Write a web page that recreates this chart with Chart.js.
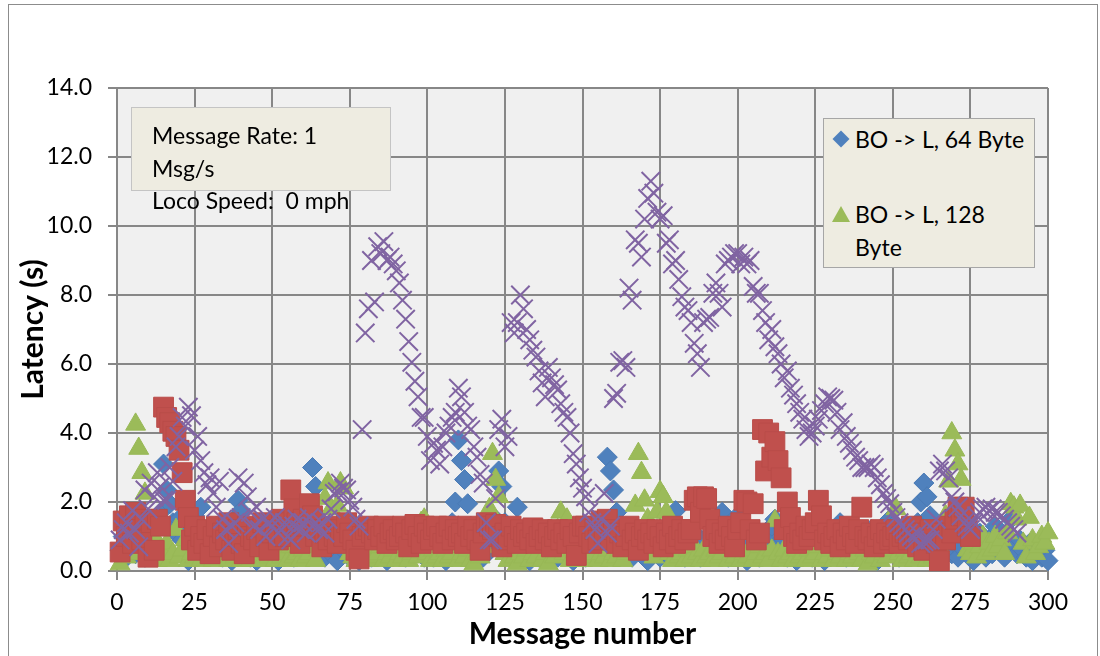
<!DOCTYPE html>
<html>
<head>
<meta charset="utf-8">
<script src="https://cdn.jsdelivr.net/npm/chart.js@4"></script>
<style>
  body { margin: 0; width: 1100px; height: 656px; overflow: hidden; background: #fff; position: relative; font-family: Lato, sans-serif; }
  #frame { position: absolute; left: 8px; top: 4px; width: 1088px; height: 720px; border: 1.5px solid #8c8c8c; }
  canvas { position: absolute; left: 0; top: 0; }
  .box { position: absolute; background: #eeece1; box-sizing: border-box; }
  .txt { position: absolute; font-size: 23px; color: #000; white-space: nowrap; }
</style>
</head>
<body>
<div id="frame"></div>
<canvas id="chart" width="1100" height="656"></canvas>

<div class="box" style="left:131px; top:107px; width:260px; height:84px; border:1.5px solid #c4c4c4;"></div>
<div class="txt" style="left:152px; top:119px; line-height:32.5px;">Message Rate: 1<br>Msg/s<br>Loco Speed:&nbsp; 0 mph</div>

<div class="box" style="left:823px; top:118px; width:212px; height:150px; border:1.5px solid #a6a6a6;"></div>
<div style="position:absolute; left:835px; top:133px; width:12px; height:12px; background:#4f81bd; transform:rotate(45deg);"></div>
<div class="txt" style="left:855px; top:123px; line-height:32px;">BO -&gt; L, 64 Byte</div>
<div style="position:absolute; left:832px; top:206px; width:0; height:0; border-left:9px solid transparent; border-right:9px solid transparent; border-bottom:16px solid #9bbb59;"></div>
<div class="txt" style="left:855px; top:198px; line-height:32.5px;">BO -&gt; L, 128<br>Byte</div>

<script>
// message numbers start at 1 in every series
const xTicks = [0, 25, 50, 75, 100, 125, 150, 175, 200, 225, 250, 275, 300];
const yTicks = [0, 2, 4, 6, 8, 10, 12, 14];

// BO -> L, 64 Byte
const blue64 = [
  0.6, 1.0, 0.4, 1.3, 0.7, 0.5, 1.1, 0.9, 0.4, 1.2,
  0.8, 1.5, 1.3, 1.7, 3.1, 2.35, 1.95, 1.4, 1.1, 1.5,
  0.9, 0.5, 0.3, 1.2, 1.6, 0.6, 1.85, 0.9, 1.0, 0.5,
  0.7, 1.3, 0.5, 0.4, 0.8, 1.1, 0.3, 1.5, 2.05, 1.75,
  1.2, 0.6, 0.4, 0.9, 0.3, 1.0, 0.7, 0.5, 1.2, 0.4,
  0.6, 0.3, 1.1, 0.8, 0.5, 0.7, 0.4, 1.3, 0.6, 0.9,
  1.3, 1.6, 3.0, 2.45, 1.5, 0.7, 0.4, 1.0, 0.5, 0.8,
  0.3, 1.2, 0.6, 0.9, 0.4, 1.1, 0.5, 0.3, 0.7, 1.0,
  0.6, 0.4, 1.2, 0.8, 0.5, 0.9, 0.3, 1.1, 0.6, 0.5,
  0.8, 1.0, 0.4, 0.7, 1.3, 0.5, 0.9, 0.6, 0.4, 0.5,
  0.7, 0.4, 0.9, 1.2, 0.6, 0.3, 0.8, 1.4, 2.0, 3.8,
  3.2, 2.65, 1.95, 1.3, 0.7, 0.5, 0.9, 0.4, 1.1, 0.6,
  0.8, 1.5, 2.9, 2.45, 1.4, 0.6, 0.4, 1.0, 1.85, 1.2,
  0.5, 0.8, 0.3, 0.6, 1.1, 0.4, 0.9, 0.7, 0.5, 1.0,
  0.6, 0.4, 0.8, 1.3, 0.5, 0.7, 0.3, 0.9, 0.6, 1.1,
  0.4, 0.8, 0.5, 1.2, 0.6, 0.9, 1.4, 3.3, 2.9, 2.35,
  1.7, 1.3, 0.7, 0.5, 0.9, 0.4, 1.1, 0.6, 0.8, 0.5,
  0.3, 0.9, 0.6, 1.2, 0.4, 0.7, 0.5, 1.0, 1.4, 1.75,
  1.2, 0.6, 0.4, 0.8, 0.5, 1.1, 0.7, 0.4, 0.9, 1.5,
  0.6, 0.8, 0.5, 1.2, 1.7, 0.9, 0.4, 0.7, 1.3, 1.6,
  0.8, 0.5, 0.3, 0.9, 0.6, 1.1, 0.4, 0.7, 0.5, 1.0,
  1.3, 1.5, 0.8, 0.5, 0.9, 0.4, 1.1, 0.6, 0.3, 0.8,
  0.5, 1.2, 0.7, 0.4, 1.3, 0.9, 0.6, 0.3, 0.8, 1.0,
  0.5, 0.7, 1.4, 0.6, 0.4, 0.9, 0.5, 1.1, 0.7, 0.4,
  0.8, 0.6, 1.2, 0.5, 0.3, 0.9, 0.6, 1.0, 1.5, 1.3,
  0.7, 0.4, 0.9, 0.6, 1.1, 0.5, 0.8, 1.4, 2.0, 2.55,
  2.15, 1.6, 1.0, 0.7, 0.4, 0.9, 0.6, 1.2, 0.5, 0.8,
  0.4, 0.7, 1.0, 0.5, 0.8, 0.3, 0.6, 1.1, 0.7, 0.4,
  0.9, 0.5, 1.3, 0.6, 0.8, 0.4, 1.0, 1.5, 0.7, 0.5,
  0.9, 0.6, 0.4, 0.8, 0.3, 0.7, 0.5, 0.4, 0.6, 0.3
];

// BO -> L, 128 Byte
const green128 = [
  0.2, 0.5, 0.4, 0.7, 0.5, 4.25, 3.55, 2.85, 2.25, 0.6,
  0.4, 1.0, 0.3, 0.6, 0.5, 0.8, 0.3, 0.5, 1.2, 0.4,
  0.6, 0.9, 0.3, 0.5, 0.4, 0.7, 0.3, 0.6, 0.5, 0.4,
  0.3, 0.6, 0.4, 0.5, 0.8, 0.3, 0.5, 0.4, 0.7, 0.3,
  0.5, 0.6, 0.3, 0.4, 0.7, 0.5, 0.3, 0.6, 0.4, 0.5,
  0.3, 0.6, 0.4, 0.5, 0.3, 0.7, 0.4, 0.5, 0.3, 0.6,
  0.4, 0.5, 0.8, 0.3, 0.6, 1.4, 2.1, 2.55, 1.8, 0.7,
  1.9, 2.55, 2.4, 1.2, 0.5, 0.4, 0.3, 0.6, 0.4, 0.5,
  0.3, 0.6, 0.4, 0.5, 0.7, 0.3, 0.5, 0.4, 0.6, 0.3,
  0.5, 0.4, 0.6, 0.3, 0.5, 0.7, 0.4, 1.4, 1.5, 0.5,
  0.3, 0.6, 0.4, 0.5, 0.3, 0.6, 0.4, 0.5, 0.7, 0.3,
  0.5, 0.4, 0.6, 0.3, 0.2, 0.5, 0.4, 0.7, 1.0, 1.8,
  3.4, 2.65, 2.15, 1.2, 0.5, 0.3, 0.6, 0.4, 0.2, 0.5,
  0.4, 0.6, 0.3, 0.5, 0.4, 0.7, 0.3, 0.5, 0.2, 0.6,
  0.4, 1.2, 1.7, 0.5, 1.5, 0.3, 0.6, 0.4, 0.5, 0.3,
  0.6, 0.4, 0.5, 0.7, 0.3, 0.5, 0.4, 0.6, 0.3, 0.5,
  0.4, 0.6, 0.3, 0.5, 0.7, 1.2, 1.9, 3.4, 2.85, 2.05,
  1.5, 0.6, 0.4, 1.7, 2.3, 2.15, 1.7, 0.5, 0.3, 0.6,
  0.4, 0.5, 0.3, 0.6, 0.4, 0.7, 0.5, 0.3, 0.6, 0.4,
  0.5, 0.3, 0.6, 0.4, 0.5, 0.7, 0.3, 0.5, 0.4, 0.6,
  0.3, 0.5, 0.4, 0.6, 0.3, 0.5, 0.7, 0.4, 0.5, 0.3,
  0.6, 1.45, 0.5, 0.3, 0.6, 0.4, 0.5, 0.3, 0.6, 0.4,
  0.5, 0.3, 0.6, 0.4, 0.5, 0.7, 0.3, 0.5, 0.4, 0.6,
  0.3, 0.5, 0.4, 0.6, 0.3, 0.5, 0.4, 0.7, 0.5, 0.3,
  0.6, 0.2, 0.5, 0.4, 0.6, 0.3, 0.5, 0.4, 0.6, 0.7,
  1.8, 0.5, 0.3, 0.6, 0.4, 0.5, 0.3, 0.6, 0.4, 0.5,
  0.3, 0.6, 0.4, 0.5, 0.7, 1.2, 1.6, 2.6, 4.0, 3.5,
  3.1, 2.65, 1.4, 0.6, 0.5, 0.8, 0.4, 0.7, 1.0, 0.5,
  0.8, 0.6, 1.0, 0.7, 0.9, 0.5, 1.1, 1.95, 1.85, 1.5,
  1.9, 0.8, 0.4, 1.55, 0.9, 0.5, 0.7, 1.0, 0.8, 1.1
];

// red squares
const redSeries = [
  0.55, 1.45, 1.0, 1.6, 0.8, 1.7, 1.2, 0.9, 1.5, 0.4,
  1.4, 0.6, 1.5, 1.3, 4.75, 4.45, 4.3, 4.05, 3.9, 3.5,
  2.85, 2.05, 1.55, 0.9, 1.3, 0.6, 1.0, 0.8, 1.2, 0.5,
  1.0, 1.3, 0.7, 1.1, 0.9, 1.4, 0.6, 1.0, 1.2, 0.8,
  0.5, 1.3, 1.0, 0.9, 1.2, 0.7, 1.4, 1.0, 0.6, 1.1,
  1.2, 0.9, 1.5, 1.0, 1.4, 2.35, 1.8, 1.4, 0.8, 1.5,
  1.3, 1.95, 1.6, 1.0, 1.2, 0.7, 1.1, 0.9, 1.3, 1.0,
  0.8, 1.2, 1.0, 1.4, 1.1, 0.9, 0.6, 0.35, 1.0, 1.2,
  1.3, 1.1, 0.9, 1.2, 1.0, 1.3, 0.8, 1.1, 1.2, 0.9,
  1.0, 1.3, 1.1, 0.7, 1.2, 1.35, 1.0, 0.8, 1.3, 1.1,
  0.9, 1.2, 1.3, 1.0, 0.8, 1.1, 1.3, 0.9, 1.2, 1.0,
  1.1, 0.8, 1.3, 1.0, 1.2, 0.9, 0.6, 1.1, 1.4, 1.3,
  1.2, 1.35, 1.0, 0.7, 1.1, 0.9, 1.3, 1.0, 0.8, 1.2,
  1.0, 1.1, 0.9, 1.25, 0.8, 1.0, 1.2, 0.9, 1.1, 0.7,
  1.0, 1.2, 0.9, 1.1, 0.8, 1.2, 1.0, 0.45, 1.1, 1.3,
  1.3, 1.0, 0.8, 1.2, 0.9, 1.45, 1.1, 1.5, 0.9, 1.2,
  0.8, 1.1, 0.7, 1.0, 1.3, 0.9, 1.1, 0.6, 1.0, 1.2,
  0.9, 1.1, 0.8, 1.2, 1.0, 0.7, 1.1, 0.9, 1.3, 0.8,
  1.0, 1.2, 0.9, 1.1, 1.2, 2.05, 2.15, 1.7, 2.15, 2.1,
  1.5, 1.0, 1.2, 0.8, 1.1, 0.9, 1.3, 1.0, 0.7, 1.2,
  1.4, 2.05, 2.0, 1.2, 1.95, 0.9, 1.1, 4.1, 2.9, 4.0,
  3.3, 3.75, 3.2, 2.7, 1.2, 2.0, 1.55, 1.0, 0.8, 1.1,
  0.9, 1.3, 1.0, 1.2, 1.4, 2.05, 1.6, 0.9, 1.1, 0.8,
  1.0, 1.2, 0.7, 1.1, 0.9, 1.3, 1.0, 0.8, 1.2, 1.85,
  1.0, 0.9, 1.1, 0.7, 1.0, 1.2, 0.8, 1.1, 0.9, 1.0,
  1.2, 0.8, 1.0, 1.1, 0.9, 1.3, 1.0, 0.7, 1.1, 0.6,
  0.9, 1.2, 1.0, 0.8, 0.3, 1.1, 0.9, 1.3, 1.1, 1.5,
  1.85, 1.6, 1.85, 1.3, 1.0
];

// purple crosses
const purpleSeries = [
  0.9, 1.2, 1.4, 1.1, 1.75, 1.2, 0.7, 1.5, 2.35, 1.8,
  2.55, 2.15, 2.85, 2.45, 2.05, 2.05, 3.0, 2.6, 3.6, 3.9,
  4.45, 4.2, 4.75, 4.5, 3.5, 3.9, 3.2, 2.85, 2.5, 2.7,
  2.25, 1.85, 2.6, 1.5, 1.2, 0.8, 1.3, 1.4, 2.7, 1.55,
  2.55, 2.15, 1.7, 1.3, 1.85, 1.2, 1.5, 1.0, 1.4, 1.3,
  1.55, 1.1, 1.2, 1.4, 1.0, 0.9, 1.3, 1.5, 1.2, 1.4,
  1.1, 1.55, 1.3, 1.4, 1.2, 1.4, 1.1, 1.5, 1.8, 2.25,
  2.3, 2.55, 2.4, 2.35, 2.05, 1.85, 1.5, 1.3, 4.1, 6.9,
  7.6, 9.0, 7.8, 9.4, 9.2, 9.55, 9.0, 9.1, 8.9, 8.7,
  8.35, 7.85, 7.3, 6.65, 6.05, 5.5, 5.05, 4.45, 4.45, 3.9,
  3.2, 3.7, 3.5, 3.1, 3.6, 4.0, 4.2, 4.45, 4.6, 5.3,
  5.05, 4.6, 4.2, 4.1, 3.6, 3.3, 2.8, 2.55, 1.4, 0.9,
  0.9, 2.1, 4.1, 4.4, 3.6, 3.9, 7.2, 6.9, 7.2, 8.0,
  7.6, 7.0, 6.7, 6.4, 6.2, 5.8, 5.45, 5.05, 5.9, 5.6,
  5.4, 5.25, 4.85, 4.6, 4.45, 4.0, 3.4, 3.1, 2.7, 2.4,
  2.15, 1.7, 1.4, 1.2, 0.8, 1.5, 2.25, 1.1, 1.3, 5.0,
  5.15, 6.05, 6.1, 5.9, 8.2, 7.85, 9.6, 9.5, 9.1, 10.2,
  10.8, 11.3, 10.95, 10.4, 10.2, 10.3, 9.5, 9.6, 8.9, 9.0,
  8.45, 7.95, 7.65, 7.55, 7.2, 6.6, 6.3, 5.9, 7.2, 7.3,
  7.35, 8.05, 8.35, 8.05, 7.65, 8.9, 9.0, 9.1, 9.2, 9.2,
  8.9, 9.1, 8.9, 9.0, 8.25, 8.05, 8.05, 7.55, 7.2, 6.7,
  7.0, 6.5, 6.3, 6.0, 5.6, 5.8, 5.3, 5.1, 4.85, 4.6,
  4.4, 4.1, 3.9, 4.0, 4.2, 4.4, 4.65, 4.85, 5.05, 5.0,
  4.95, 4.6, 4.1, 4.3, 3.9, 3.7, 3.5, 3.3, 3.2, 3.0,
  3.0, 3.0, 3.1, 3.0, 2.7, 2.5, 2.25, 2.1, 1.95, 1.7,
  1.55, 1.4, 1.3, 1.2, 1.1, 1.0, 0.9, 1.1, 0.8, 0.85,
  0.9, 0.9, 1.2, 1.5, 2.9, 3.1, 2.9, 2.7, 2.15, 2.0,
  1.85, 1.6, 1.4, 1.3, 1.2, 1.4, 1.6, 1.7, 1.8, 1.85,
  1.75, 1.8, 1.7, 1.7, 1.6, 1.5, 1.4, 1.3, 1.2, 1.1
];

function toPoints(values) {
  return values.map((v, i) => ({ x: i + 1, y: v }));
}

const plotBackground = {
  id: 'plotBackground',
  beforeDraw(chart) {
    const { ctx, chartArea } = chart;
    ctx.save();
    ctx.fillStyle = '#f0f0f0';
    ctx.fillRect(chartArea.left, chartArea.top, chartArea.right - chartArea.left, chartArea.bottom - chartArea.top);
    ctx.restore();
  }
};

const ctx = document.getElementById('chart').getContext('2d');
new Chart(ctx, {
  type: 'scatter',
  data: {
    datasets: [
      {
        label: 'BO -> L, 64 Byte',
        data: toPoints(blue64),
        pointStyle: 'rectRot',
        pointRadius: 10,
        backgroundColor: '#4f81bd',
        borderColor: '#4a7ab5',
        borderWidth: 1,
        order: 4
      },
      {
        label: 'BO -> L, 128 Byte',
        data: toPoints(green128),
        pointStyle: 'triangle',
        pointRadius: 11.5,
        backgroundColor: '#9bbb59',
        borderColor: '#98b856',
        borderWidth: 1,
        order: 3
      },
      {
        label: 'red',
        data: toPoints(redSeries),
        pointStyle: 'rect',
        pointRadius: 14,
        backgroundColor: '#c0504d',
        borderColor: '#b94c49',
        borderWidth: 1,
        order: 2
      },
      {
        label: 'purple',
        data: toPoints(purpleSeries),
        pointStyle: 'crossRot',
        pointRadius: 13,
        backgroundColor: '#8064a2',
        borderColor: '#8064a2',
        borderWidth: 2,
        order: 1
      }
    ]
  },
  options: {
    responsive: false,
    animation: false,
    clip: false,
    layout: { padding: { top: 88, right: 52, bottom: 0, left: 0 } },
    plugins: {
      legend: { display: false },
      tooltip: { enabled: false }
    },
    scales: {
      x: {
        type: 'linear',
        min: 0,
        max: 300,
        afterFit: (scale) => { scale.height = 85; },
        afterBuildTicks: (scale) => { scale.ticks = xTicks.map(v => ({ value: v })); },
        grid: { color: '#878787', lineWidth: 2, tickLength: 9 },
        border: { color: '#878787', width: 2 },
        ticks: { color: '#000', font: { family: 'Lato', size: 23 }, padding: 9, maxRotation: 0 },
        title: {
          display: true,
          text: 'Message number',
          color: '#000',
          font: { family: 'Lato', size: 30, weight: 'bold' },
          padding: { top: 0, bottom: 4 }
        }
      },
      y: {
        min: 0,
        max: 14,
        afterFit: (scale) => { scale.width = 117; },
        afterBuildTicks: (scale) => { scale.ticks = yTicks.map(v => ({ value: v })); },
        grid: { color: '#878787', lineWidth: 2, tickLength: 9 },
        border: { color: '#878787', width: 2 },
        ticks: { color: '#000', font: { family: 'Lato', size: 23 }, padding: 16, callback: (v) => v.toFixed(1) },
        title: {
          display: true,
          text: 'Latency (s)',
          color: '#000',
          font: { family: 'Lato', size: 30, weight: 'bold' },
          padding: { top: 15, bottom: 0 }
        }
      }
    }
  },
  plugins: [plotBackground]
});
</script>
</body>
</html>
